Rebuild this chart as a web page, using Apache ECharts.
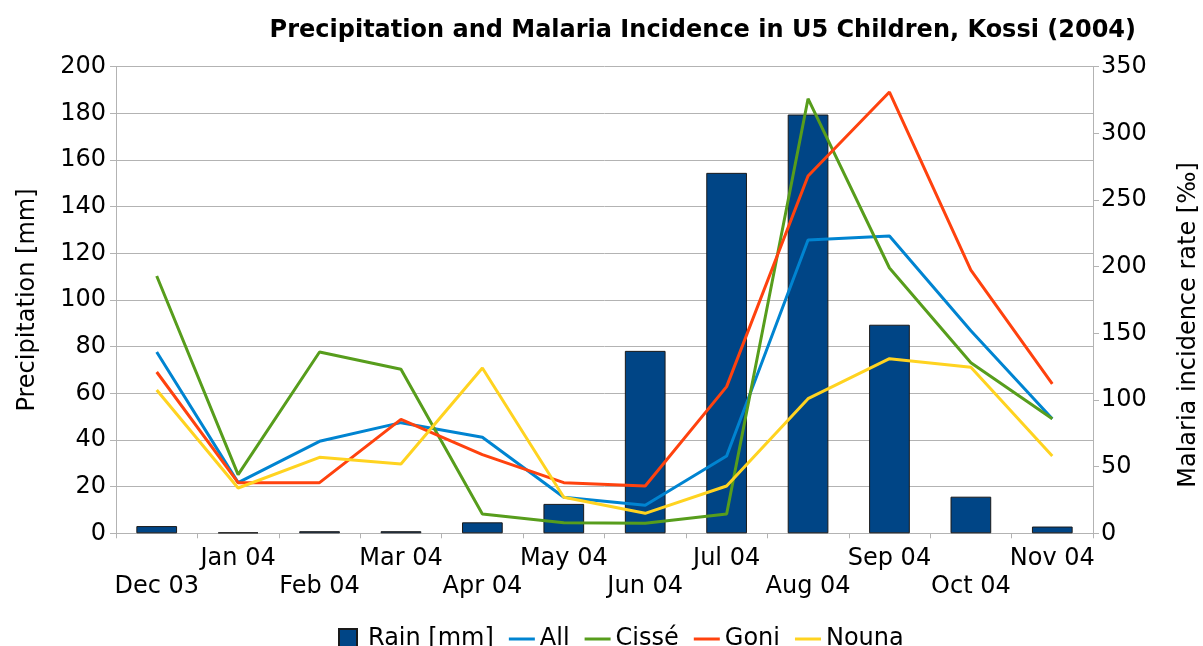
<!DOCTYPE html>
<html>
<head>
<meta charset="utf-8">
<script src="https://cdn.jsdelivr.net/npm/echarts@6/dist/echarts.min.js"></script>
<style>
  * { margin: 0; padding: 0; }
  html, body { width: 1203px; height: 646px; background: #fff; overflow: hidden; }
  #chart { width: 1203px; height: 646px; }
</style>
</head>
<body>
<div id="chart"></div>
<script>
// months on the category axis
const months = ['Dec 03', 'Jan 04', 'Feb 04', 'Mar 04', 'Apr 04', 'May 04', 'Jun 04', 'Jul 04', 'Aug 04', 'Sep 04', 'Oct 04', 'Nov 04']
// precipitation in mm (left axis)
const rain = [3.1, 0.4, 0.9, 0.9, 4.7, 12.6, 78.2, 154.5, 179.5, 89.4, 15.7, 2.9]
// malaria incidence rate in per mille (right axis)
const all = [136, 38, 69, 83, 72, 27, 21, 58, 220, 223, 152, 86]
const cisse = [193, 44, 136, 123, 14.5, 8, 7.5, 14.5, 326, 199, 128, 86]
const goni = [121, 38, 38, 85.5, 59, 38, 35.5, 110, 268, 331, 197.5, 112]
const nouna = [107.5, 34, 57, 52, 124, 27, 15, 35.5, 101, 131, 124.5, 58]

const font = 'DejaVu Sans'
const gridColor = '#b3b3b3'

const chart = echarts.init(document.getElementById('chart'))

const lineSeries = (name, data, color) => ({
  name: name,
  type: 'line',
  yAxisIndex: 1,
  data: data,
  showSymbol: false,
  symbol: 'none',
  z: 3,
  itemStyle: { color: color },
  lineStyle: { color: color, width: 3 }
})

chart.setOption({
  animation: false,
  textStyle: { fontFamily: font, color: '#000' },
  title: {
    text: 'Precipitation and Malaria Incidence in U5 Children, Kossi (2004)',
    right: 62,
    top: 14,
    textStyle: { fontFamily: font, fontWeight: 'bold', fontSize: 24, color: '#000' }
  },
  legend: {
    left: 333,
    top: 622,
    itemWidth: 26,
    itemHeight: 20,
    itemGap: 15,
    symbolKeepAspect: true,
    textStyle: { fontFamily: font, fontSize: 24, color: '#000' },
    data: [
      { name: 'Rain [mm]', icon: 'path://M0,0h18v20h-18z', textStyle: { padding: [0, 0, 0, 2] } },
      { name: 'All', icon: 'path://M0,0h26v3h-26z' },
      { name: 'Cissé', icon: 'path://M0,0h26v3h-26z' },
      { name: 'Goni', icon: 'path://M0,0h26v3h-26z' },
      { name: 'Nouna', icon: 'path://M0,0h26v3h-26z' }
    ]
  },
  grid: { left: 116, right: 110, top: 66.7, bottom: 112.7, containLabel: false, outerBoundsMode: 'none' },
  xAxis: {
    type: 'category',
    data: months,
    boundaryGap: true,
    axisLine: { lineStyle: { color: gridColor } },
    axisTick: { show: true, length: 5, lineStyle: { color: gridColor } },
    axisLabel: {
      interval: 0,
      margin: 11,
      fontSize: 24,
      lineHeight: 28,
      color: '#000',
      fontFamily: font,
      formatter: (v, i) => (i % 2 === 0 ? '\n' + v : v)
    }
  },
  yAxis: [
    {
      type: 'value',
      min: 0,
      max: 200,
      interval: 20,
      name: 'Precipitation [mm]',
      nameLocation: 'middle',
      nameRotate: 90,
      nameGap: 76,
      nameTextStyle: { fontFamily: font, fontSize: 24, color: '#000' },
      axisLine: { show: true, lineStyle: { color: gridColor } },
      axisTick: { show: true, length: 6, lineStyle: { color: gridColor } },
      axisLabel: { fontSize: 24, color: '#000', fontFamily: font, margin: 10 },
      splitLine: { show: true, lineStyle: { color: gridColor, width: 1 } }
    },
    {
      type: 'value',
      min: 0,
      max: 350,
      interval: 50,
      position: 'right',
      name: 'Malaria incidence rate [‰]',
      nameLocation: 'middle',
      nameRotate: 90,
      nameGap: 84,
      nameTextStyle: { fontFamily: font, fontSize: 24, color: '#000', padding: [0, 50, 0, 0] },
      axisLine: { show: true, lineStyle: { color: gridColor } },
      axisTick: { show: true, length: 6, lineStyle: { color: gridColor } },
      axisLabel: { fontSize: 24, color: '#000', fontFamily: font, margin: 8 },
      splitLine: { show: false }
    }
  ],
  series: [
    {
      name: 'Rain [mm]',
      type: 'bar',
      yAxisIndex: 0,
      data: rain,
      barWidth: '50%',
      z: 2,
      itemStyle: { color: '#004586', borderColor: '#1a1a1a', borderWidth: 1 }
    },
    lineSeries('All', all, '#0084d1'),
    lineSeries('Cissé', cisse, '#579d1c'),
    lineSeries('Goni', goni, '#ff420e'),
    lineSeries('Nouna', nouna, '#ffd320')
  ]
})
</script>
</body>
</html>
